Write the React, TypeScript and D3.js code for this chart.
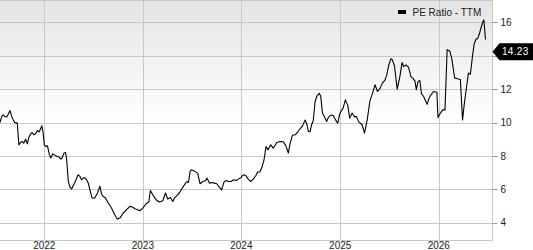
import React from 'react';
import * as d3 from 'd3';

const dates: string[] = [
  "2021-07-21","2021-07-27","2021-08-02","2021-08-08","2021-08-15","2021-08-21","2021-08-27","2021-09-02","2021-09-08","2021-09-14","2021-09-23","2021-09-29","2021-10-05","2021-10-11","2021-10-17","2021-10-24","2021-10-30","2021-11-05","2021-11-11","2021-11-17","2021-11-23","2021-11-30","2021-12-06","2021-12-12","2021-12-18","2021-12-23","2021-12-28",
  "2022-01-01","2022-01-07","2022-01-13","2022-01-19","2022-01-25","2022-02-01","2022-02-07","2022-02-13","2022-02-19","2022-02-25","2022-03-03","2022-03-08","2022-03-15","2022-03-21","2022-03-25","2022-03-31","2022-04-06","2022-04-12","2022-04-18","2022-04-24","2022-05-01","2022-05-06","2022-05-13","2022-05-19","2022-05-25","2022-05-31","2022-06-07","2022-06-13","2022-06-19","2022-06-27","2022-07-07","2022-07-17","2022-07-26","2022-08-01","2022-08-07","2022-08-16","2022-08-26","2022-09-07","2022-09-19","2022-09-28","2022-10-08","2022-10-20","2022-11-02","2022-11-14","2022-11-23","2022-12-03","2022-12-21",
  "2023-01-01","2023-01-13","2023-01-23","2023-01-29","2023-02-07","2023-02-19","2023-03-03","2023-03-16","2023-03-26","2023-04-03","2023-04-13","2023-04-22","2023-04-28","2023-05-06","2023-05-16","2023-05-23","2023-06-04","2023-06-13","2023-06-19","2023-06-25","2023-06-29","2023-07-07","2023-07-17","2023-07-23","2023-08-01","2023-08-11","2023-08-21","2023-08-27","2023-09-05","2023-09-15","2023-09-23","2023-10-02","2023-10-09","2023-10-20","2023-10-28","2023-11-05","2023-11-15","2023-11-24","2023-12-03","2023-12-13","2023-12-21","2023-12-31",
  "2024-01-08","2024-01-18","2024-01-26","2024-02-04","2024-02-14","2024-02-23","2024-03-01","2024-03-10","2024-03-16","2024-03-25","2024-04-01","2024-04-08","2024-04-19","2024-04-28","2024-05-11","2024-05-23","2024-06-04","2024-06-13","2024-06-23","2024-06-29","2024-07-08","2024-07-18","2024-07-28","2024-08-05","2024-08-14","2024-08-24","2024-08-30","2024-09-05","2024-09-11","2024-09-17","2024-09-23","2024-09-30","2024-10-06","2024-10-15","2024-10-21","2024-10-27","2024-11-03","2024-11-12","2024-11-18","2024-11-28","2024-12-06","2024-12-15","2024-12-23","2024-12-30",
  "2025-01-05","2025-01-12","2025-01-20","2025-01-29","2025-02-05","2025-02-14","2025-02-23","2025-03-02","2025-03-10","2025-03-23","2025-04-01","2025-04-11","2025-04-21","2025-04-30","2025-05-10","2025-05-19","2025-05-29","2025-06-06","2025-06-15","2025-06-22","2025-07-01","2025-07-08","2025-07-13","2025-07-21","2025-07-31","2025-08-09","2025-08-18","2025-08-24","2025-09-02","2025-09-11","2025-09-20","2025-09-27","2025-10-05","2025-10-10","2025-10-16","2025-10-23","2025-10-29","2025-11-06","2025-11-12","2025-11-19","2025-11-25","2025-12-03","2025-12-13","2025-12-25","2025-12-29",
  "2026-01-07","2026-01-16","2026-01-24","2026-02-01","2026-02-11","2026-02-18","2026-02-26","2026-03-01","2026-03-08","2026-03-14","2026-03-22","2026-03-30","2026-04-06","2026-04-14","2026-04-21","2026-04-28","2026-05-06","2026-05-12","2026-05-19","2026-05-25","2026-06-01","2026-06-06","2026-06-13","2026-06-17","2026-06-23"
];

const peValues: number[] = [
  10.00,10.36,10.46,10.36,10.33,10.51,10.72,10.40,10.16,10.00,9.97,8.67,8.81,8.87,8.77,9.01,8.73,9.13,9.31,9.41,9.27,9.33,9.53,9.43,9.61,9.81,9.37,
  8.67,8.57,8.61,8.13,7.88,8.13,8.07,8.01,7.97,7.94,7.82,7.88,8.18,8.21,7.78,6.48,6.14,6.03,6.22,6.42,6.68,6.88,6.78,6.58,6.68,6.70,6.58,6.38,5.98,5.49,5.49,5.79,6.20,5.74,5.58,5.49,5.19,4.89,4.49,4.23,4.29,4.58,4.79,4.99,4.95,4.85,4.73,
  4.89,5.15,5.25,5.94,5.68,5.39,5.25,5.33,5.79,5.43,5.52,5.28,5.49,5.62,5.79,5.98,6.28,6.48,6.42,7.08,7.18,7.14,7.04,6.98,6.34,6.48,6.52,6.68,6.38,6.42,6.38,6.34,6.18,5.98,6.42,6.54,6.48,6.48,6.58,6.54,6.62,6.72,
  6.88,6.82,6.62,6.48,6.62,6.82,7.04,7.06,7.28,7.78,8.57,8.37,8.67,8.47,8.81,8.87,8.85,8.64,8.18,8.73,9.24,9.27,9.45,9.63,9.79,10.15,9.93,9.49,9.45,9.87,10.11,11.26,11.57,11.75,11.57,10.57,10.37,10.06,10.31,10.45,10.42,10.16,9.96,10.52,
  10.70,10.88,11.36,11.03,10.27,10.57,10.34,10.37,10.06,9.87,9.37,10.16,11.30,11.72,12.26,11.86,12.06,12.36,12.52,12.82,13.51,13.82,13.75,13.40,12.00,12.66,13.59,13.35,13.45,13.30,12.75,12.66,12.48,11.96,12.45,12.52,11.72,11.56,11.33,11.09,11.42,11.66,11.86,11.81,10.31,
  10.57,10.76,10.76,14.36,14.27,13.84,12.97,12.66,12.64,12.61,12.58,10.16,11.18,12.14,12.97,12.88,13.99,14.70,15.00,15.02,15.34,15.64,16.02,16.14,14.97
];

const yTicks: number[] = [4, 6, 8, 10, 12, 14, 16];
const xTickYears: number[] = [2022, 2023, 2024, 2025, 2026];
const legendLabel = 'PE Ratio - TTM';
const lastValue = 14.23;

export default function App() {
  const W = 533;
  const H = 250;
  const PW = 492.5;
  const PH = 240;
  const font = '"Liberation Sans", Arial, Helvetica, sans-serif';

  const parse = d3.timeParse('%Y-%m-%d');
  const data = dates.map((d, i) => ({ date: parse(d) as Date, value: peValues[i] }));

  const x = d3.scaleTime().domain([new Date(2021, 6, 21), new Date(2026, 6, 19)]).range([0, PW]);
  const y = d3.scaleLinear().domain([2.98, 17.33]).range([PH, 0]);

  const line = d3
    .line<{ date: Date; value: number }>()
    .x((d) => x(d.date))
    .y((d) => y(d.value));

  const snap = (v: number) => Math.round(v) + 0.5;
  const ly = y(lastValue);
  const labelHalf = 8.5;

  return (
    <svg
      width={W}
      height={H}
      viewBox={`0 0 ${W} ${H}`}
      style={{ position: 'absolute', left: 0, top: 0, display: 'block', background: '#fff' }}
    >
      <defs>
        <linearGradient id="bg" x1="0" y1="0" x2="0" y2="1">
          <stop offset="0%" stopColor="#e4e4e4" />
          <stop offset="50%" stopColor="#ffffff" />
          <stop offset="100%" stopColor="#ffffff" />
        </linearGradient>
        <clipPath id="plotClip">
          <rect x={0} y={0} width={PW} height={PH} />
        </clipPath>
      </defs>
      <rect x={0} y={0} width={PW} height={PH} fill="url(#bg)" />

      {yTicks.map((t) => (
        <line key={`h${t}`} x1={0} x2={PW} y1={snap(y(t))} y2={snap(y(t))} stroke="#c8c8c8" strokeWidth={1} />
      ))}
      {xTickYears.map((yr) => {
        const xv = snap(x(new Date(yr, 0, 1)));
        return <line key={`v${yr}`} x1={xv} x2={xv} y1={0} y2={PH} stroke="#c8c8c8" strokeWidth={1} />;
      })}

      {/* frame */}
      <line x1={0} x2={PW} y1={0.5} y2={0.5} stroke="#c8c8c8" />
      <line x1={0} x2={PW} y1={PH + 0.5} y2={PH + 0.5} stroke="#c8c8c8" />
      <line x1={PW} x2={PW} y1={0} y2={PH + 1} stroke="#c8c8c8" />

      <path d={line(data) || ''} fill="none" stroke="#000" strokeWidth={1.1} strokeLinejoin="round" clipPath="url(#plotClip)" />

      {/* right axis */}
      {yTicks.map((t) => {
        const hidden = Math.abs(y(t) - ly) < labelHalf + 4;
        return (
          <g key={`yt${t}`}>
            <line x1={PW} x2={PW + 5} y1={snap(y(t))} y2={snap(y(t))} stroke="#999" />
            {!hidden && (
              <text x={PW + 8} y={y(t)} dy="0.35em" fontSize={10} fontFamily={font} fill="#222">
                {t}
              </text>
            )}
          </g>
        );
      })}

      {/* x axis labels */}
      {xTickYears.map((yr) => (
        <text
          key={`xl${yr}`}
          x={x(new Date(yr, 0, 1))}
          y={249}
          textAnchor="middle"
          fontSize={10}
          fontFamily={font}
          fill="#222"
        >
          {yr}
        </text>
      ))}

      {/* legend */}
      <rect x={398} y={10} width={8} height={4} fill="#000" />
      <text x={412.5} y={15.5} fontSize={10} fontFamily={font} fill="#222">
        {legendLabel}
      </text>

      {/* last value label */}
      <path
        d={`M${PW},${ly} L${PW + 7},${ly - labelHalf} L${W},${ly - labelHalf} L${W},${ly + labelHalf} L${PW + 7},${ly + labelHalf} Z`}
        fill="#000"
      />
      <text x={502} y={ly} dy="0.36em" fontSize={10} fontFamily={font} fill="#fff" letterSpacing={0.3}>
        {lastValue.toFixed(2)}
      </text>
    </svg>
  );
}
